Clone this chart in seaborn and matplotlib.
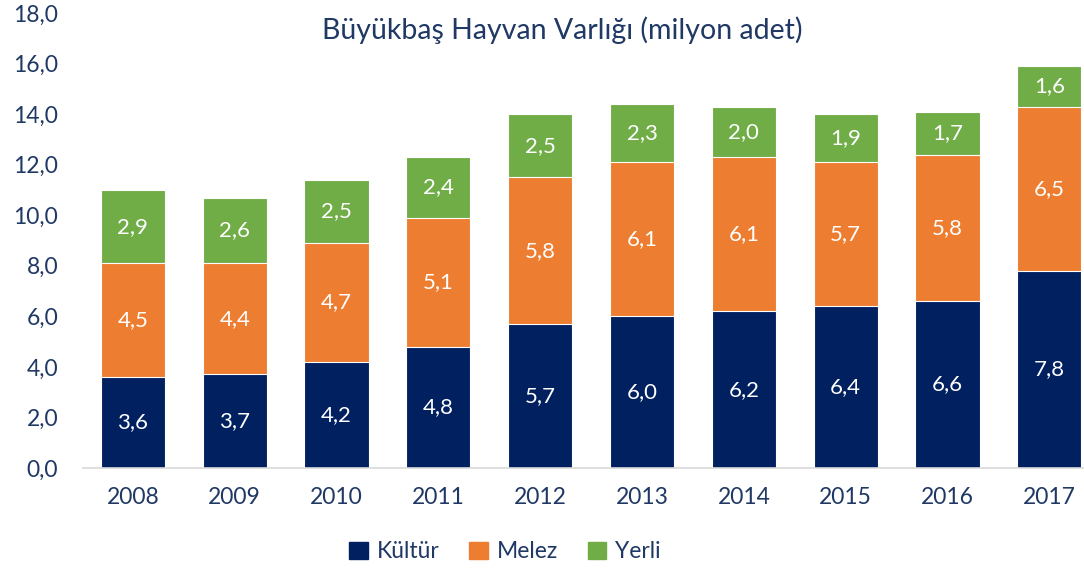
import matplotlib
matplotlib.use("Agg")
import matplotlib.pyplot as plt
from matplotlib.patches import Patch
import seaborn as sns
import pandas as pd

years = ["2008", "2009", "2010", "2011", "2012", "2013", "2014", "2015", "2016", "2017"]
kultur = [3.6, 3.7, 4.2, 4.8, 5.7, 6.0, 6.2, 6.4, 6.6, 7.8]
melez = [4.5, 4.4, 4.7, 5.1, 5.8, 6.1, 6.1, 5.7, 5.8, 6.5]
yerli = [2.9, 2.6, 2.5, 2.4, 2.5, 2.3, 2.0, 1.9, 1.7, 1.6]
series_names = ["Kültür", "Melez", "Yerli"]
colors = ["#002060", "#ED7D31", "#70AD47"]
text_color = "#1F3864"

sns.set_style("white")
plt.rcParams["font.family"] = ["Lato", "DejaVu Sans"]

df = pd.DataFrame({"year": years, "Kültür": kultur, "Melez": melez, "Yerli": yerli})
df["k_m"] = df["Kültür"] + df["Melez"]
df["total"] = df["k_m"] + df["Yerli"]

fig = plt.figure(figsize=(10.84, 5.69), dpi=100)
ax = fig.add_axes([83 / 1084, 101 / 569, 1001 / 1084, 455 / 569])

# stacked bars drawn as overlapping cumulative totals
for col, c in zip(["total", "k_m", "Kültür"], colors[::-1]):
    sns.barplot(data=df, x="year", y=col, color=c, width=0.63,
                edgecolor="white", linewidth=0.8, saturation=1, ax=ax)

bottoms = [[0] * len(years), kultur, list(df["k_m"])]
for vals, bots in zip([kultur, melez, yerli], bottoms):
    for i, (v, b) in enumerate(zip(vals, bots)):
        ax.text(i, b + v / 2, f"{v:.1f}".replace(".", ","), ha="center", va="center",
                color="white", fontsize=16)

ax.set_ylim(0, 18)
ax.set_xlim(-0.49, 9.34)
ax.set_yticks(range(0, 19, 2))
ax.set_yticklabels([f"{t:.1f}".replace(".", ",") for t in range(0, 19, 2)])
ax.tick_params(axis="both", colors=text_color, labelsize=16.5, length=0)
ax.tick_params(axis="x", pad=14)
ax.tick_params(axis="y", pad=18)
ax.set_xlabel("")
ax.set_ylabel("")
sns.despine(ax=ax, left=True)
ax.spines["bottom"].set_color("#D9D9D9")
ax.spines["bottom"].set_linewidth(1.2)

fig.text(562 / 1084, 1 - 30 / 569, "Büyükbaş Hayvan Varlığı (milyon adet)", ha="center",
         va="center", fontsize=20.5, color=text_color)

handles = [Patch(facecolor=c, edgecolor=c) for c in colors]
fig.legend(handles, series_names, loc="center", bbox_to_anchor=(505 / 1084, 1 - 552 / 569),
           ncol=3, frameon=False, fontsize=16.5, labelcolor=text_color, handlelength=0.8,
           handleheight=0.8, columnspacing=1.3, handletextpad=0.4)

fig.savefig("out.png", dpi=100)
plt.close(fig)
